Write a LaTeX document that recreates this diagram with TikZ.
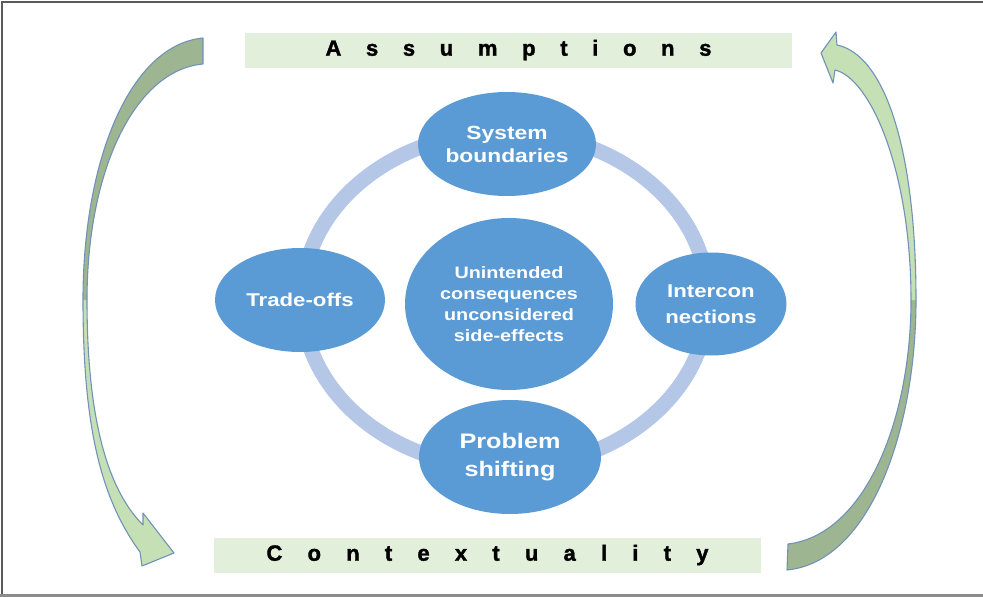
\documentclass[tikz,border=0pt]{standalone}
\usepackage{fontspec}
\setmainfont{Liberation Sans}
\newfontfamily\widefont[FakeStretch=1.2]{Liberation Sans}
\newfontfamily\titlefont[BoldFeatures={FakeBold=1.6}]{Liberation Sans}
\usetikzlibrary{shapes.geometric}
\definecolor{blob}{HTML}{5B9BD5}
\definecolor{ringc}{HTML}{B4C7E7}
\definecolor{band}{HTML}{E2EFDA}
\definecolor{ardark}{HTML}{9EB591}
\definecolor{arlight}{HTML}{C5E0B4}
\definecolor{arline}{HTML}{7092B8}
\definecolor{framec}{HTML}{5A5A5A}
\definecolor{framelow}{HTML}{8C8C8C}
\begin{document}
\begin{tikzpicture}[x=1pt,y=-1pt,
  blobnode/.style={ellipse, fill=blob, text=white, inner sep=0pt, align=center},
  titlebox/.style={fill=band, inner sep=0pt, minimum height=35pt, text=black,
    font=\titlefont\bfseries\fontsize{22}{26}\selectfont},
  arrowline/.style={draw=arline, line width=1.1pt, line join=round},
]
\useasboundingbox (0,0) rectangle (983,597);
% frame
\draw[framec, line width=2pt] (2,597) -- (2,1.5) -- (983,1.5);
\draw[framelow, line width=3pt] (0,595.5) -- (983,595.5);

% ring
\draw[ringc, line width=15pt] (505,300) ellipse [x radius=203, y radius=168];

% title boxes
\node[titlebox, minimum width=547pt] (assume) at (518.5,50)
  {\makebox[386pt][s]{A s s u m p t i o n s}};
\node[titlebox, minimum width=547pt] (context) at (487.5,555)
  {\makebox[442pt][s]{C o n t e x t u a l i t y}};

% ellipses
\node[blobnode, minimum width=178pt, minimum height=104pt,
  font=\widefont\bfseries\fontsize{19}{23}\selectfont] (top) at (507,144)
  {System\\boundaries};
\node[blobnode, minimum width=170pt, minimum height=104pt,
  font=\widefont\bfseries\fontsize{18.5}{22}\selectfont] (left) at (300,300)
  {Trade-offs};
\node[blobnode, minimum width=151pt, minimum height=103pt,
  font=\widefont\bfseries\fontsize{18.5}{26}\selectfont] (right) at (711,304)
  {Intercon\\nections};
\node[blobnode, minimum width=182pt, minimum height=114pt,
  font=\widefont\bfseries\fontsize{21}{28}\selectfont] (bottom) at (510,457)
  {Problem\\shifting};
\node[blobnode, minimum width=208pt, minimum height=172pt,
  font=\widefont\bfseries\fontsize{16.5}{21}\selectfont] (center) at (509,304)
  {Unintended\\consequences\\unconsidered\\side-effects};

% left curved arrow (Assumptions -> Contextuality)
\coordinate (la1) at (203,38);
\coordinate (la2) at (203,64);
\coordinate (lamo) at (83,300);
\coordinate (lami) at (87,300);
\fill[ardark] (la1) .. controls (130,45) and (83,160) .. (lamo) -- (lami)
  .. controls (87,170) and (135,70) .. (la2) -- cycle;
\fill[arlight] (lamo) .. controls (83,430) and (102,500) .. (140,552) -- (142,566)
  -- (174,553) -- (143,513) -- (143,525) .. controls (108,490) and (87,420) .. (lami) -- cycle;
\draw[arrowline] (la1) .. controls (130,45) and (83,160) .. (lamo)
  .. controls (83,430) and (102,500) .. (140,552) -- (142,566)
  -- (174,553) -- (143,513) -- (143,525) .. controls (108,490) and (87,420) .. (lami)
  .. controls (87,170) and (135,70) .. (la2) -- cycle;

% right curved arrow (Contextuality -> Assumptions)
\coordinate (ra1) at (787,570);
\coordinate (ra2) at (788,544);
\coordinate (ramo) at (916,300);
\coordinate (rami) at (911,300);
\fill[ardark] (ra1) .. controls (870,562) and (916,430) .. (ramo) -- (rami)
  .. controls (911,420) and (865,535) .. (ra2) -- cycle;
\fill[arlight] (ramo) .. controls (916,150) and (885,55) .. (837,45) -- (836,32)
  -- (821,53) -- (833,83) -- (835,70) .. controls (870,78) and (911,170) .. (rami) -- cycle;
\draw[arrowline] (ra1) .. controls (870,562) and (916,430) .. (ramo)
  .. controls (916,150) and (885,55) .. (837,45) -- (836,32)
  -- (821,53) -- (833,83) -- (835,70) .. controls (870,78) and (911,170) .. (rami)
  .. controls (911,420) and (865,535) .. (ra2) -- cycle;
\end{tikzpicture}
\end{document}
